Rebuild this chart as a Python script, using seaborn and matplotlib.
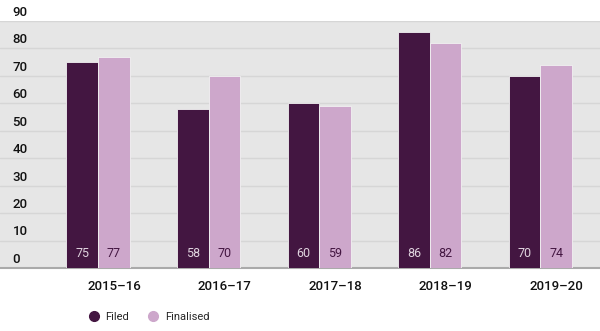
import numpy as np
import pandas as pd
import matplotlib
matplotlib.use("Agg")
import matplotlib.pyplot as plt
import seaborn as sns
from matplotlib.lines import Line2D

years = ["2015–16", "2016–17", "2017–18", "2018–19", "2019–20"]
filed = [75, 58, 60, 86, 70]
finalised = [77, 70, 59, 82, 74]
series = ["Filed", "Finalised"]
colors = ["#431641", "#cda7cb"]
yticks = [0, 10, 20, 30, 40, 50, 60, 70, 80, 90]

df = pd.DataFrame({
    "year": years * 2,
    "value": filed + finalised,
    "series": [series[0]] * len(years) + [series[1]] * len(years),
})

sns.set_theme(style="white")
plt.rcParams["font.family"] = ["Roboto", "DejaVu Sans"]

fig = plt.figure(figsize=(6.0, 3.31), dpi=100)
ax = fig.add_axes([0.0, (331 - 268) / 331, 1.0, (268 - 21) / 331])
ax.set_facecolor("#e6e6e6")

sns.barplot(data=df, x="year", y="value", hue="series", order=years,
            hue_order=series, palette=colors, width=0.57, dodge=True,
            edgecolor="#f2f2f2", linewidth=0.6, saturation=1, ax=ax,
            legend=False, zorder=3)

ax.set_ylim(0, 90)
ax.set_xlim(-0.886, 4.539)
ax.set_yticks(yticks)
ax.grid(axis="y", color="#d6d6d6", linewidth=1.0, zorder=0)
ax.grid(axis="x", visible=False)
ax.set_axisbelow(True)
for s in ["top", "right", "left"]:
    ax.spines[s].set_visible(False)
ax.spines["bottom"].set_color("#aaaaaa")
ax.spines["bottom"].set_linewidth(1.5)
ax.set_xlabel("")
ax.set_ylabel("")

# value labels at bottom of bars
for cont, col in zip(ax.containers, ["#e0d4df", "#431641"]):
    labels = [f"{int(round(b.get_height()))}" for b in cont]
    texts = ax.bar_label(cont, labels=labels, label_type="edge", padding=0,
                         fontsize=9, color=col)
    for t in texts:
        x, y = t.xy
        t.xy = (x, 0)
        t.set_va("bottom")
        t.xyann = (0, 6)

# y labels drawn just above gridlines, inside plot
ax.set_yticklabels([])
ax.tick_params(axis="y", length=0)
for v in yticks:
    ax.annotate(str(v), xy=(0, v), xycoords=("axes fraction", "data"),
                xytext=(9, 1.5), textcoords="offset points", ha="left", va="bottom",
                fontsize=9.5, color="#111111", fontweight="medium", clip_on=False)

# x tick labels offset right of group centre
offset = 0.145
ax.set_xticks(np.arange(len(years)) + offset)
ax.set_xticklabels(years, fontsize=9.5, color="#111111", fontweight="medium")
ax.tick_params(axis="x", length=0, pad=9)

handles = [Line2D([0], [0], marker="o", linestyle="", markersize=7,
                  markerfacecolor=c, markeredgecolor=c) for c in colors]
fig.legend(handles, series, loc="lower left", bbox_to_anchor=(78 / 600, 0.015),
           ncol=2, frameon=False, fontsize=8, handletextpad=0.05,
           columnspacing=1.2, borderaxespad=0)

fig.savefig("out.png", dpi=100)
